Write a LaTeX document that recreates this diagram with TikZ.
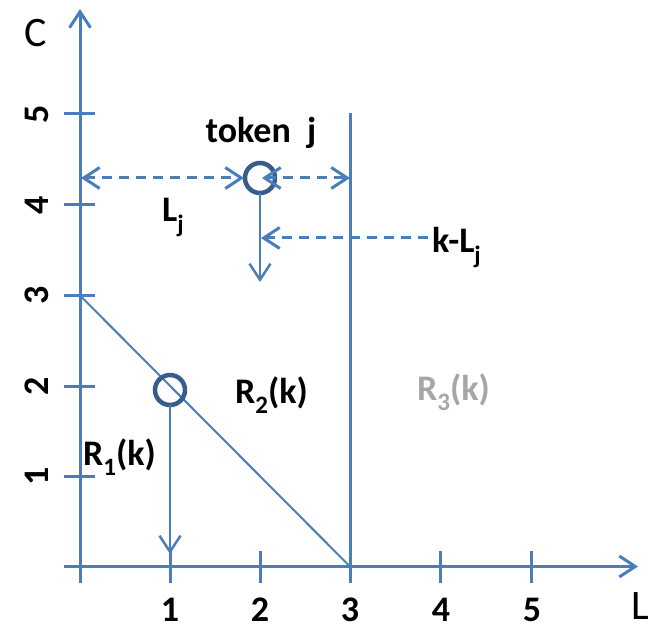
\documentclass[tikz,border=0pt]{standalone}
\usepackage{fontspec}
\setmainfont{Carlito}
\usetikzlibrary{arrows.meta}
\definecolor{lb}{HTML}{4A7EBB}
\definecolor{db}{HTML}{385D8A}
\definecolor{gr}{HTML}{A6A6A6}
\newcommand\lsub[1]{\raisebox{-0.28em}{\fontsize{25pt}{25pt}\selectfont #1}}
\tikzset{
  axis/.style={draw=lb, line width=3pt},
  tickmark/.style={draw=lb, line width=3pt},
  vee/.style={-{Straight Barb[length=16pt,width=21pt]}},
  dash line/.style={draw=lb, line width=3pt, dash pattern=on 10pt off 7pt},
  tok/.style={draw=db, line width=4.5pt},
  lbl/.style={inner sep=0pt, font=\fontsize{36pt}{36pt}\selectfont\bfseries},
  axlbl/.style={inner sep=0pt, font=\fontsize{42pt}{42pt}\selectfont},
}
\begin{document}
\begin{tikzpicture}[x=1pt,y=-1pt]
\useasboundingbox (0,0) rectangle (656,628);
% coordinates
\coordinate (O) at (80,566.5);
\coordinate (ybot) at (80,583);
\coordinate (ytop) at (80,9);
\coordinate (xleft) at (64,566.5);
\coordinate (xright) at (638,566.5);
% axes
\draw[axis] (ybot) -- (O);
\draw[axis, vee] (O) -- (ytop);
\draw[axis] (xleft) -- (O);
\draw[axis, vee] (O) -- (xright);
% y ticks
\foreach \i/\y in {1/476,2/386,3/295.5,4/205,5/114}{
  \draw[tickmark] (64,\y) -- (95,\y);
  \node[lbl, rotate=90] (yl\i) at (37,\y) {\i};
}
% x ticks
\foreach \i/\x in {0/80,1/170,2/260,3/350,4/440,5/531}{
  \draw[tickmark] (\x,551) -- (\x,583);
}
\foreach \i/\x in {1/170,2/260,3/350,4/441,5/532}{
  \node[lbl, anchor=base] (xl\i) at (\x,621) {\i};
}
% axis labels
\node[axlbl, anchor=base] (C) at (36,47) {C};
\node[axlbl, anchor=base] (L) at (640,619) {L};
% boundary line at L=3
\coordinate (v3top) at (350,113);
\coordinate (v3bot) at (350,583);
\draw[draw=lb, line width=3pt] (v3top) -- (v3bot);
% diagonal
\coordinate (d1) at (80,295.5);
\coordinate (d2) at (350,566.5);
\draw[draw=lb, line width=2pt] (d1) -- (d2);
% token circles
\coordinate (c1) at (170,390);
\coordinate (c2) at (260,178);
\draw[tok] (c1) circle (15);
\draw[tok] (c2) circle (15);
% arrows from circles
\coordinate (c1b) at (170,405);
\coordinate (c1t) at (170,554);
\draw[draw=lb, line width=2.5pt, vee] (c1b) -- (c1t);
\coordinate (c2b) at (260,193);
\coordinate (c2t) at (260,282);
\draw[draw=lb, line width=2.5pt, vee] (c2b) -- (c2t);
% dashed arrows
\coordinate (a1) at (81,178);
\coordinate (a2) at (244,178);
\coordinate (a3) at (262,178);
\coordinate (a4) at (350,178);
\draw[dash line, {Straight Barb[length=16pt,width=21pt]}-{Straight Barb[length=16pt,width=21pt]}] (a1) -- (a2);
\draw[dash line, {Straight Barb[length=16pt,width=21pt]}-{Straight Barb[length=16pt,width=21pt]}] (a3) -- (a4);
\coordinate (b1) at (428,238);
\coordinate (b2) at (261,238);
\draw[dash line, vee] (b1) -- (b2);
% labels
\node[lbl, anchor=base] (tok) at (261,143) {token\ \ j};
\node[lbl, anchor=base west] (Lj) at (162,222) {L\lsub{j}};
\node[lbl, anchor=base west] (kLj) at (432,253) {k-L\lsub{j}};
\node[lbl, anchor=base west] (R1) at (83,465) {R\lsub{1}(k)};
\node[lbl, anchor=base west] (R2) at (235,403) {R\lsub{2}(k)};
\node[lbl, anchor=base west, text=gr] (R3) at (417,400) {R\lsub{3}(k)};
\end{tikzpicture}
\end{document}
